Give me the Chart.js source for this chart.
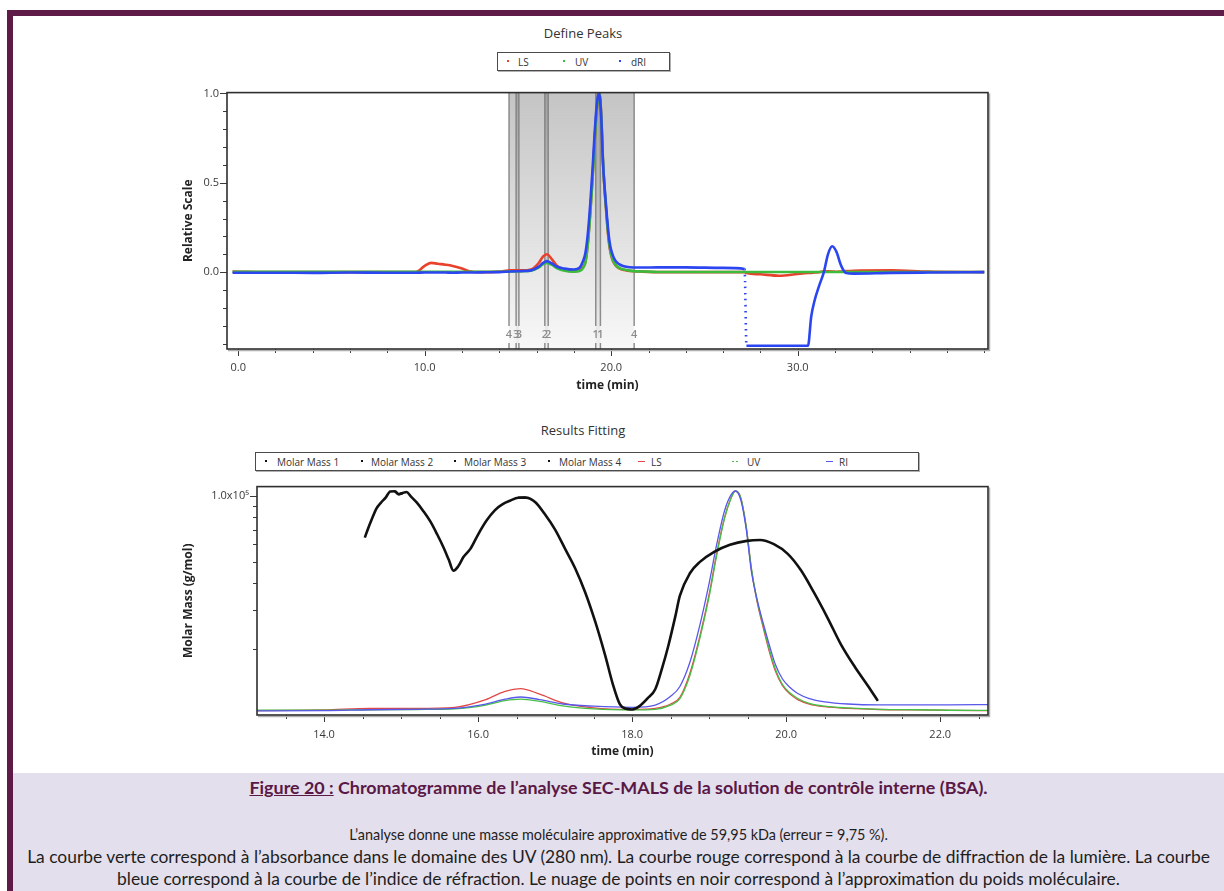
<!DOCTYPE html>
<html lang="fr">
<head>
<meta charset="utf-8">
<title>SEC-MALS – BSA</title>
<script src="https://cdn.jsdelivr.net/npm/chart.js@4.4.1/dist/chart.umd.min.js"></script>
<style>
  html, body { margin: 0; padding: 0; background: #fff; }
  body { position: relative; width: 1224px; height: 891px; overflow: hidden;
         font-family: "Open Sans", "DejaVu Sans", sans-serif; color: #333; }
  .bar { position: absolute; background: #5e1b48; }
  canvas { position: absolute; }
  .ctitle { position: absolute; width: 300px; text-align: center; font-size: 13px; line-height: 16px; color: #333; }
  .legend { position: absolute; box-sizing: border-box; border: 1.5px solid #4a4a4a;
            box-shadow: 1px 1px 0 #b0b0b0; background: #fff; font-size: 10px; color: #333; }
  .legend span { position: absolute; top: 0; bottom: 0; display: flex; align-items: center; white-space: nowrap; }
  .mk-dot  { width: 2px; height: 2px; margin-top: -2px; }
  .mk-dash { width: 7px; height: 1.5px; }
  .mk-dots { width: 7px; height: 1.5px; }
  #caption { position: absolute; left: 13px; top: 773px; width: 1211px; height: 118px; background: #e4dfec;
             font-family: Lato, "Open Sans", sans-serif; }
  #caption div { position: absolute; left: 0; width: 100%; text-align: center; white-space: nowrap; }
  .cap-title { top: 3px; font-weight: bold; font-size: 17.9px; line-height: 22px; color: #5a1846; }
  .cap-line { font-size: 17.4px; line-height: 22px; color: #1e1e1e; }
  .cap-line.small { font-size: 14.4px; }
</style>
</head>
<body>
<div class="bar" style="left:7px;top:10px;width:1217px;height:6px"></div>
<div class="bar" style="left:7px;top:10px;width:6px;height:881px"></div>

<div class="ctitle" style="left:433px;top:25px">Define Peaks</div>
<div class="legend" id="legendPeaks" style="left:497px;top:52px;width:173px;height:19px"></div>
<canvas id="peaksChart" width="880" height="316" style="left:130px;top:78px;width:880px;height:316px"></canvas>

<div class="ctitle" style="left:433px;top:422px">Results Fitting</div>
<div class="legend" id="legendFit" style="left:255px;top:452px;width:664px;height:19px"></div>
<canvas id="fitChart" width="880" height="288" style="left:130px;top:472px;width:880px;height:288px"></canvas>

<div id="caption">
  <div class="cap-title"><u>Figure 20 :</u> Chromatogramme de l’analyse SEC-MALS de la solution de contrôle interne (BSA).</div>
  <div class="cap-line small" style="top:51px">L’analyse donne une masse moléculaire approximative de 59,95 kDa (erreur = 9,75 %).</div>
  <div class="cap-line" style="top:73px">La courbe verte correspond à l’absorbance dans le domaine des UV (280 nm). La courbe rouge correspond à la courbe de diffraction de la lumière. La courbe</div>
  <div class="cap-line" style="top:95px">bleue correspond à la courbe de l’indice de réfraction. Le nuage de points en noir correspond à l’approximation du poids moléculaire.</div>
</div>

<script>
// ---- detector traces (relative scale), shared elution time axis in minutes ----
const signalTime = [-0.3, 2, 4, 6, 8, 9.5, 10.0, 10.35, 10.7, 11.1, 11.5, 12.0, 12.4, 13.0, 14.0, 14.6, 15.2, 15.7,
  16.1, 16.35, 16.55, 16.8, 17.1, 17.5, 18.0, 18.3, 18.5, 18.62, 18.75, 18.88, 19.0, 19.1, 19.2, 19.28, 19.34, 19.41,
  19.48, 19.55, 19.62, 19.7, 19.78, 19.86, 19.95, 20.05, 20.15, 20.3, 20.5, 20.8, 21.2, 21.7, 22.5, 24, 26, 27.15,
  27.25, 28.0, 29.0, 30.0, 30.55, 30.72, 30.9, 31.15, 31.4, 31.62, 31.85, 32.07, 32.33, 32.6, 33.0, 35, 37, 40];

const lsSignal = [0.003, 0, 0, 0, 0, 0, 0.035, 0.052, 0.047, 0.042, 0.035, 0.02, 0.005, 0, 0.003, 0.01, 0.01, 0.015,
  0.05, 0.088, 0.1, 0.075, 0.035, 0.012, 0.005, 0.01, 0.03, 0.06, 0.17, 0.34, 0.53, 0.72, 0.88, 0.965, 1.0, 0.97,
  0.84, 0.64, 0.5, 0.38, 0.27, 0.18, 0.115, 0.075, 0.05, 0.03, 0.018, 0.01, 0.005, 0.003, 0, 0, 0, 0,
  -0.005, -0.012, -0.02, -0.01, -0.005, -0.004, -0.002, 0, 0.005, 0.005, 0.004, 0.002, 0.004, 0.006, 0.008, 0.01, 0.003, 0];

const uvSignal = [0.002, 0.002, 0.002, 0.002, 0.002, 0.002, 0.002, 0.002, 0.002, 0.002, 0.002, 0.002, 0.002, 0.002, 0.002, 0.004, 0.005, 0.008,
  0.025, 0.045, 0.052, 0.042, 0.022, 0.008, 0.003, 0.006, 0.025, 0.055, 0.16, 0.33, 0.52, 0.71, 0.875, 0.963, 1.0, 0.97,
  0.84, 0.645, 0.505, 0.39, 0.28, 0.19, 0.12, 0.08, 0.055, 0.033, 0.02, 0.012, 0.006, 0.004, 0.001, 0.001, 0.001, 0.001,
  0.001, 0.001, 0.001, 0.001, 0.001, 0.001, 0.001, 0.001, 0.001, 0.001, 0.001, 0.001, 0.001, 0.001, 0.001, 0.001, 0.001, 0.001];

const riSignal = [-0.003, -0.003, -0.004, -0.002, -0.003, -0.003, -0.002, -0.002, -0.002, -0.002, -0.003, -0.002, -0.002, -0.001, 0, 0.004, 0.006, 0.01,
  0.03, 0.052, 0.062, 0.05, 0.03, 0.02, 0.015, 0.025, 0.065, 0.11, 0.22, 0.39, 0.58, 0.76, 0.91, 0.98, 1.0, 0.96,
  0.83, 0.63, 0.51, 0.40, 0.30, 0.21, 0.145, 0.105, 0.078, 0.055, 0.04, 0.03, 0.026, 0.026, 0.027, 0.027, 0.024, 0.018,
  -0.412, -0.412, -0.412, -0.412, -0.412, -0.25, -0.16, -0.075, 0, 0.1, 0.145, 0.115, 0.035, -0.005, -0.008, -0.004, -0.002, 0];

// ---- molar mass (g/mol) across the eluted peaks ----
const molarTime = [14.53, 14.57, 14.62, 14.68, 14.74, 14.80, 14.86, 14.92, 14.97, 15.02, 15.07, 15.13, 15.20, 15.29, 15.38,
  15.47, 15.55, 15.62, 15.68, 15.74, 15.81, 15.90, 16.00, 16.11, 16.22, 16.32, 16.42, 16.52, 16.62, 16.74, 16.87, 17.00,
  17.13, 17.26, 17.39, 17.52, 17.65, 17.75, 17.84, 17.91, 18.00, 18.10, 18.20, 18.30, 18.39, 18.47, 18.56, 18.62, 18.75,
  18.88, 19.06, 19.27, 19.49, 19.66, 19.84, 20.02, 20.19, 20.36, 20.54, 20.71, 20.89, 21.06, 21.19, 21.25];
const molarMass = [64400, 70500, 78000, 87300, 93000, 98000, 104500, 104800, 101500, 102800, 104000, 99000, 93400, 85000, 76300,
  66500, 58200, 51000, 45500, 47500, 52500, 57200, 66500, 77000, 86000, 91500, 95000, 97800, 98000, 93500, 82000, 70000,
  57200, 46700, 36300, 26700, 18700, 13800, 11200, 10700, 10600, 11000, 11900, 13100, 16400, 20700, 28100, 35000, 44300,
  49900, 55300, 59700, 62200, 62800, 60100, 54300, 45800, 36200, 27600, 21000, 16600, 13600, 11600, 10800];

// ---- peak definitions (start / end times, min) ----
const peakIds = ['1', '2', '3', '4'];
const peakStart = [19.17, 16.44, 14.90, 14.52];
const peakEnd = [19.42, 16.62, 15.05, 21.23];

// ---- tick labels ----
const peaksTimeTicks = [0, 10, 20, 30];
const peaksScaleTicks = [0, 0.5, 1.0];
const fitTimeTicks = [14, 16, 18, 20, 22];
const fitMassTicks = [100000];

const steps = (a, b, s) => { const out = []; for (let v = a; v <= b + 1e-9; v += s) out.push(Math.round(v * 1000) / 1000); return out; };
const points = (xs, ys) => xs.map((x, i) => ({ x, y: ys[i] }));

Chart.defaults.font.family = '"Open Sans", "DejaVu Sans", sans-serif';
Chart.defaults.color = '#3a3a3a';

// frame, outward tick marks (major + minor) drawn from the chart's own scales
const axisFrame = {
  id: 'axisFrame',
  afterDraw(chart, args, o) {
    const { ctx, chartArea: a } = chart;
    const xs = chart.scales.x, ys = chart.scales.y;
    const near = (v, list) => list.some(m => Math.abs(m - v) <= 1e-6 * Math.max(1, Math.abs(m)));
    ctx.save();
    ctx.strokeStyle = '#3a3a3a';
    ctx.lineWidth = 1;
    ctx.beginPath();
    o.xMinor.forEach(v => {
      if (v < xs.min || v > xs.max) return;
      const p = Math.round(xs.getPixelForValue(v)) + 0.5;
      ctx.moveTo(p, a.bottom);
      ctx.lineTo(p, a.bottom + (near(v, o.xMajor) ? 7 : 4));
    });
    o.yMinor.forEach(v => {
      if (v < ys.min || v > ys.max) return;
      const p = Math.round(ys.getPixelForValue(v)) + 0.5;
      ctx.moveTo(a.left, p);
      ctx.lineTo(a.left - (near(v, o.yMajor) ? 7 : 4), p);
    });
    ctx.stroke();
    ctx.strokeStyle = '#b0b0b0';
    ctx.lineWidth = 1.5;
    ctx.beginPath();
    ctx.moveTo(a.right + 1.5, a.top + 1);
    ctx.lineTo(a.right + 1.5, a.bottom + 1.5);
    ctx.lineTo(a.left + 1, a.bottom + 1.5);
    ctx.stroke();
    ctx.strokeStyle = '#2e2e2e';
    ctx.lineWidth = 1.6;
    ctx.strokeRect(a.left, a.top, a.right - a.left, a.bottom - a.top);
    ctx.restore();
  }
};

// shaded peak windows with boundary markers and their numbers
const peakBands = {
  id: 'peakBands',
  beforeDatasetsDraw(chart) {
    const { ctx, chartArea: a, scales: { x } } = chart;
    ctx.save();
    ctx.beginPath();
    ctx.rect(a.left, a.top, a.right - a.left, a.bottom - a.top);
    ctx.clip();
    peakIds.forEach((id, i) => {
      const x0 = x.getPixelForValue(peakStart[i]);
      const x1 = x.getPixelForValue(peakEnd[i]);
      const g = ctx.createLinearGradient(0, a.top, 0, a.bottom);
      g.addColorStop(0, 'rgba(115,115,115,0.42)');
      g.addColorStop(1, 'rgba(115,115,115,0.05)');
      ctx.fillStyle = g;
      ctx.fillRect(x0, a.top, x1 - x0, a.bottom - a.top);
    });
    ctx.strokeStyle = 'rgba(125,125,125,0.85)';
    ctx.lineWidth = 1.5;
    ctx.fillStyle = '#8c8c8c';
    ctx.font = '600 11px "Open Sans", sans-serif';
    ctx.textAlign = 'center';
    ctx.textBaseline = 'middle';
    peakIds.forEach((id, i) => {
      [peakStart[i], peakEnd[i]].forEach(t => {
        const p = x.getPixelForValue(t);
        ctx.beginPath();
        ctx.moveTo(p, a.top);
        ctx.lineTo(p, a.bottom - 23);
        ctx.moveTo(p, a.bottom - 6);
        ctx.lineTo(p, a.bottom);
        ctx.stroke();
        ctx.fillText(id, p, a.bottom - 14);
      });
    });
    ctx.restore();
  }
};

const tickFont = { size: 11 };
const titleFont = { size: 12, weight: 'bold' };

// ---------- Define Peaks ----------
const steepDrop = ctx =>
  (Math.abs(ctx.p1.parsed.x - ctx.p0.parsed.x) < 0.2 && Math.abs(ctx.p1.parsed.y - ctx.p0.parsed.y) > 0.2) ? [1.5, 4.5] : undefined;

const peaksChart = new Chart(document.getElementById('peaksChart'), {
  type: 'line',
  data: {
    datasets: [
      { label: 'LS', data: points(signalTime, lsSignal), borderColor: '#e8412c', borderWidth: 2.6, order: 2 },
      { label: 'UV', data: points(signalTime, uvSignal), borderColor: '#3dbb3d', borderWidth: 2.6, order: 1 },
      { label: 'dRI', data: points(signalTime, riSignal), borderColor: '#2b45f0', borderWidth: 2.6, order: 0,
        segment: { borderDash: steepDrop } }
    ]
  },
  options: {
    responsive: false,
    animation: false,
    devicePixelRatio: 1,
    layout: { padding: { left: 40, right: 22, top: 10, bottom: 0 } },
    elements: { point: { radius: 0 }, line: { cubicInterpolationMode: 'monotone', fill: false } },
    plugins: {
      legend: { display: false },
      tooltip: { enabled: false },
      axisFrame: { xMinor: steps(0, 40, 2), xMajor: peaksTimeTicks, yMinor: steps(-0.4, 1.0, 0.1), yMajor: peaksScaleTicks }
    },
    scales: {
      x: {
        type: 'linear', min: -0.6, max: 40.2,
        grid: { display: false, drawTicks: false }, border: { display: false },
        afterBuildTicks: s => { s.ticks = peaksTimeTicks.map(v => ({ value: v })); },
        afterFit: s => { s.height = 45; },
        ticks: { font: tickFont, padding: 12, maxRotation: 0, callback: v => Number(v).toFixed(1) },
        title: { display: true, text: 'time (min)', font: titleFont, color: '#222', padding: { top: 0, bottom: 1 } }
      },
      y: {
        type: 'linear', min: -0.43, max: 1.005,
        grid: { display: false, drawTicks: false }, border: { display: false },
        afterBuildTicks: s => { s.ticks = peaksScaleTicks.map(v => ({ value: v })); },
        afterFit: s => { s.width = 57; },
        ticks: { font: tickFont, padding: 8, callback: v => Number(v).toFixed(1) },
        title: { display: true, text: 'Relative Scale', font: titleFont, color: '#222', padding: { top: 11, bottom: 0 } }
      }
    }
  },
  plugins: [peakBands, axisFrame]
});

// ---------- Results Fitting ----------
const inPeak = k => molarTime.map((t, i) => ({ x: t, y: molarMass[i] }))
  .filter(p => p.x >= peakStart[k] - 1e-9 && p.x <= peakEnd[k] + 1e-9);

const massStyle = { borderColor: '#111', backgroundColor: '#111', borderWidth: 2.6, tension: 0, order: 0, yAxisID: 'y' };

const fitChart = new Chart(document.getElementById('fitChart'), {
  type: 'line',
  data: {
    datasets: [
      { label: 'Molar Mass 1', data: inPeak(0), ...massStyle },
      { label: 'Molar Mass 2', data: inPeak(1), ...massStyle },
      { label: 'Molar Mass 3', data: inPeak(2), ...massStyle },
      { label: 'Molar Mass 4', data: inPeak(3), ...massStyle },
      { label: 'LS', data: points(signalTime, lsSignal), borderColor: '#e24848', borderWidth: 1.3, yAxisID: 'ySig', order: 3 },
      { label: 'UV', data: points(signalTime, uvSignal), borderColor: '#45c045', borderWidth: 1.3, yAxisID: 'ySig', order: 2 },
      { label: 'RI', data: points(signalTime, riSignal), borderColor: '#5858ea', borderWidth: 1.3, yAxisID: 'ySig', order: 1 }
    ]
  },
  options: {
    responsive: false,
    animation: false,
    devicePixelRatio: 1,
    layout: { padding: { left: 40, right: 22, top: 9, bottom: 0 } },
    elements: { point: { radius: 0 }, line: { cubicInterpolationMode: 'monotone', fill: false } },
    plugins: {
      legend: { display: false },
      tooltip: { enabled: false },
      axisFrame: { xMinor: steps(13.5, 22.5, 0.5), xMajor: fitTimeTicks, yMinor: steps(20000, 100000, 10000), yMajor: fitMassTicks }
    },
    scales: {
      x: {
        type: 'linear', min: 13.13, max: 22.62,
        grid: { display: false, drawTicks: false }, border: { display: false },
        afterBuildTicks: s => { s.ticks = fitTimeTicks.map(v => ({ value: v })); },
        afterFit: s => { s.height = 45; },
        ticks: { font: tickFont, padding: 13, maxRotation: 0, callback: v => Number(v).toFixed(1) },
        title: { display: true, text: 'time (min)', font: titleFont, color: '#222', padding: { top: 0, bottom: 1 } }
      },
      y: {
        type: 'logarithmic', min: 10000, max: 110000,
        grid: { display: false, drawTicks: false }, border: { display: false },
        afterBuildTicks: s => { s.ticks = fitMassTicks.map(v => ({ value: v })); },
        afterFit: s => { s.width = 87; },
        ticks: { font: tickFont, padding: 8, callback: v => (v / 100000).toFixed(1) + 'x10⁵' },
        title: { display: true, text: 'Molar Mass (g/mol)', font: titleFont, color: '#222', padding: { top: 11, bottom: 0 } }
      },
      ySig: { type: 'linear', display: false, min: -0.02, max: 1.02 }
    }
  },
  plugins: [axisFrame]
});

// ---------- boxed legends built from the datasets ----------
function buildLegend(el, chart, layout) {
  const seen = new Set();
  chart.data.datasets.forEach(ds => {
    if (seen.has(ds.label)) return;
    seen.add(ds.label);
    const spec = layout[seen.size - 1];
    const mk = document.createElement('span');
    mk.style.left = spec.marker + 'px';
    const glyph = document.createElement('i');
    glyph.className = 'mk-' + spec.kind;
    if (spec.kind === 'dots') {
      glyph.style.background = `repeating-linear-gradient(90deg, ${ds.borderColor} 0 2px, transparent 2px 4px)`;
    } else {
      glyph.style.background = ds.borderColor;
    }
    mk.appendChild(glyph);
    const tx = document.createElement('span');
    tx.style.left = spec.text + 'px';
    tx.textContent = ds.label;
    el.appendChild(mk);
    el.appendChild(tx);
  });
}

buildLegend(document.getElementById('legendPeaks'), peaksChart, [
  { kind: 'dot', marker: 9, text: 20 },
  { kind: 'dot', marker: 65, text: 77 },
  { kind: 'dot', marker: 121, text: 133 }
]);
buildLegend(document.getElementById('legendFit'), fitChart, [
  { kind: 'dot', marker: 9, text: 21 },
  { kind: 'dot', marker: 105, text: 115 },
  { kind: 'dot', marker: 198, text: 208 },
  { kind: 'dot', marker: 292, text: 303 },
  { kind: 'dash', marker: 382, text: 395 },
  { kind: 'dots', marker: 476, text: 491 },
  { kind: 'dash', marker: 570, text: 583 }
]);
</script>
</body>
</html>
